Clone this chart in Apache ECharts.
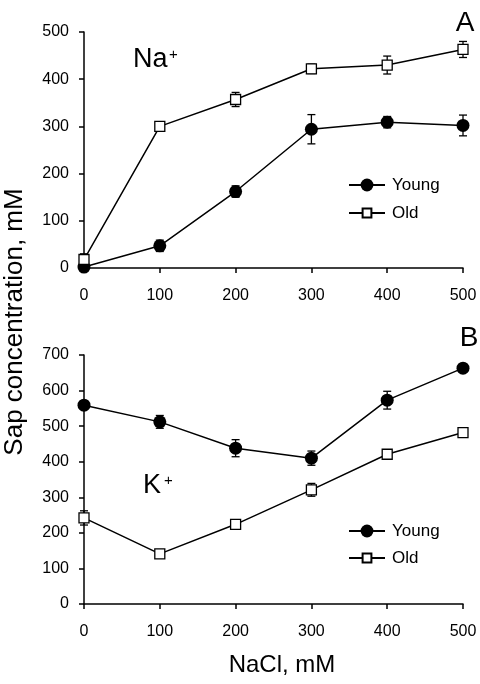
<!DOCTYPE html>
<html><head><meta charset="utf-8">
<script src="https://cdn.jsdelivr.net/npm/echarts@6/dist/echarts.min.js"></script>
<style>html,body{margin:0;padding:0;background:#fff}#c{width:480px;height:684px}</style>
</head><body><div id="c"></div>
<script>
var nacl = [0, 100, 200, 300, 400, 500];
var naYoung = [2, 47, 162, 294, 309, 302];
var naYoungErr = [4, 12, 12, 31, 12, 22];
var naOld = [18, 300, 357, 422, 430, 463];
var naOldErr = [12, 5, 15, 10, 19, 17];
var kYoung = [559, 512, 438, 410, 573, 663];
var kYoungErr = [12, 18, 24, 20, 25, 10];
var kOld = [242, 141, 224, 321, 421, 482];
var kOldErr = [20, 8, 8, 18, 8, 8];
var naTicks = [0, 100, 200, 300, 400, 500];
var kTicks = [0, 100, 200, 300, 400, 500, 600, 700];

var FONT = 'Liberation Sans, Arial, sans-serif';
function pairs(ys){ return nacl.map(function(x,i){ return [x, ys[i]]; }); }
function triples(ys, es){ return nacl.map(function(x,i){ return [x, ys[i], es[i]]; }); }

function errSeries(idx, ys, es){
  return {
    type: 'custom', xAxisIndex: idx, yAxisIndex: idx, z: 1, silent: true,
    encode: {x: 0, y: 1},
    data: triples(ys, es),
    renderItem: function(params, api){
      var x = api.value(0), y = api.value(1), e = api.value(2);
      var hi = api.coord([x, y + e]), lo = api.coord([x, y - e]);
      var w = 4, st = {stroke: '#000', lineWidth: 1.3};
      return {type: 'group', children: [
        {type: 'line', shape: {x1: hi[0], y1: hi[1], x2: lo[0], y2: lo[1]}, style: st},
        {type: 'line', shape: {x1: hi[0]-w, y1: hi[1], x2: hi[0]+w, y2: hi[1]}, style: st},
        {type: 'line', shape: {x1: lo[0]-w, y1: lo[1], x2: lo[0]+w, y2: lo[1]}, style: st}
      ]};
    }
  };
}
function lineSeries(idx, name, ys){
  var young = name === 'Young';
  return {
    name: name, type: 'line', xAxisIndex: idx, yAxisIndex: idx, z: 3,
    data: pairs(ys),
    symbol: young ? 'circle' : 'rect',
    symbolSize: young ? 13 : 10,
    showAllSymbol: true,
    lineStyle: {color: '#000', width: 1.5},
    itemStyle: young ? {color: '#000', borderColor: '#000', borderWidth: 0}
                     : {color: '#fff', borderColor: '#000', borderWidth: 1.3},
    emphasis: {disabled: true}
  };
}
function xAxis(idx){
  return {
    type: 'value', gridIndex: idx, min: 0, max: 500, interval: 100,
    axisLine: {lineStyle: {color: '#000', width: 1.5}},
    axisTick: {show: true, inside: false, length: 5, lineStyle: {color: '#000', width: 1.5}},
    axisLabel: {color: '#000', fontSize: 16, fontFamily: FONT, margin: 20},
    splitLine: {show: false}
  };
}
function yAxis(idx, ticks){
  return {
    type: 'value', gridIndex: idx, min: ticks[0], max: ticks[ticks.length-1], interval: 100,
    axisLine: {show: true, lineStyle: {color: '#000', width: 1.5}},
    axisTick: {show: true, inside: false, length: 5, lineStyle: {color: '#000', width: 1.5}},
    axisLabel: {color: '#000', fontSize: 16, fontFamily: FONT, margin: 15},
    splitLine: {show: false}
  };
}
function legend(top, name, h){
  return {
    orient: 'vertical', left: 343, top: top, itemWidth: 36, itemHeight: h,
    data: [name], selectedMode: false,
    textStyle: {color: '#000', fontSize: 17, fontFamily: FONT, padding: [0, 0, 0, 2]}
  };
}
function txt(x, y, s, size, align){
  return {type: 'text', x: x, y: y, silent: true,
    style: {text: s, fontSize: size, fontFamily: FONT, fill: '#000',
      textAlign: align || 'left', textVerticalAlign: 'middle'}};
}

var chart = echarts.init(document.getElementById('c'), null, {renderer: 'canvas'});
chart.setOption({
  animation: false,
  backgroundColor: '#fff',
  grid: [
    {left: 84, right: 17, top: 32, height: 236},
    {left: 84, right: 17, top: 355, height: 249}
  ],
  xAxis: [xAxis(0), xAxis(1)],
  yAxis: [yAxis(0, naTicks), yAxis(1, kTicks)],
  legend: [
    legend(171.5, 'Young', 16), legend(199.5, 'Old', 11),
    legend(517.5, 'Young', 16), legend(544.5, 'Old', 11)
  ],
  series: [
    errSeries(0, naYoung, naYoungErr),
    errSeries(0, naOld, naOldErr),
    lineSeries(0, 'Young', naYoung),
    lineSeries(0, 'Old', naOld),
    errSeries(1, kYoung, kYoungErr),
    errSeries(1, kOld, kOldErr),
    lineSeries(1, 'Young', kYoung),
    lineSeries(1, 'Old', kOld)
  ],
  graphic: [
    txt(465, 23, 'A', 28, 'center'),
    txt(469, 338, 'B', 28, 'center'),
    txt(133, 60, 'Na', 27),
    txt(169, 55, '+', 15),
    txt(143, 486, 'K', 27),
    txt(164, 481, '+', 15),
    txt(282, 665, 'NaCl, mM', 24, 'center'),
    {type: 'text', x: 15, y: 322, rotation: Math.PI/2, silent: true,
      style: {text: 'Sap concentration, mM', fontSize: 26, fontFamily: FONT, fill: '#000',
        textAlign: 'center', textVerticalAlign: 'middle'}}
  ]
});
</script></body></html>
